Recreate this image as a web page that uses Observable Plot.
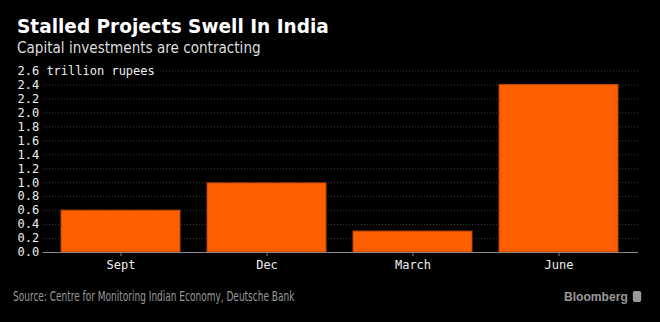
<!DOCTYPE html>
<html><head><meta charset="utf-8">
<script src="https://cdn.jsdelivr.net/npm/d3@7"></script>
<script src="https://cdn.jsdelivr.net/npm/@observablehq/plot@0.6"></script>
<style>
html,body{margin:0;padding:0;background:#000;}
#wrap{position:relative;width:660px;height:322px;background:#000;overflow:hidden;}
#title{position:absolute;left:17px;top:14px;font-family:"DejaVu Sans";font-weight:bold;font-size:20px;color:#fff;white-space:nowrap;transform:scaleX(0.925);transform-origin:0 0;}
#sub{position:absolute;left:17px;top:39px;font-family:"DejaVu Sans";font-size:15px;color:#ddd;white-space:nowrap;transform:scaleX(0.905);transform-origin:0 0;}
#chart{position:absolute;left:0;top:60px;}
#src{position:absolute;left:13px;top:288px;font-family:"DejaVu Sans Condensed","Liberation Sans Narrow";font-size:13.5px;color:#999;white-space:nowrap;transform:scaleX(0.74);transform-origin:0 0;}
#bb{position:absolute;left:564px;top:289px;font-family:"Liberation Sans","DejaVu Sans";font-weight:bold;font-size:13px;color:#999;white-space:nowrap;transform:scaleX(0.93);transform-origin:0 0;}
#bb i{display:inline-block;width:9px;height:11px;background:#999;border-radius:2px;margin-left:5px;vertical-align:-1px;}
</style></head>
<body><div id="wrap">
<div id="title">Stalled Projects Swell In India</div>
<div id="sub">Capital investments are contracting</div>
<div id="chart"></div>
<div id="src">Source: Centre for Monitoring Indian Economy, Deutsche Bank</div>
<div id="bb">Bloomberg<i></i></div>
</div>
<script>
const categories = ["Sept", "Dec", "March", "June"];
const values = [0.6, 0.99, 0.3, 2.4];
const yTicks = [0, 0.2, 0.4, 0.6, 0.8, 1.0, 1.2, 1.4, 1.6, 1.8, 2.0, 2.2, 2.4, 2.6];
const unitLabel = "trillion rupees";

const data = categories.map((c, i) => ({cat: c, value: values[i]}));
const mono = "DejaVu Sans Mono";

const plot = Plot.plot({
  width: 660,
  height: 215,
  marginLeft: 40,
  marginRight: 22,
  marginTop: 10.5,
  marginBottom: 23,
  style: {background: "#000", fontFamily: mono},
  x: {domain: categories, paddingInner: 0.185, paddingOuter: 0.0925, insetLeft: 7, insetRight: 7, label: null},
  y: {domain: [0, 2.6], label: null},
  marks: [
    Plot.ruleY(yTicks.filter(d => d > 0), {stroke: "#3a3a3a", strokeDasharray: "1,2", strokeWidth: 1}),
    Plot.barY(data, {x: "cat", y: "value", fill: "#ff5f00", stroke: "#b84400", strokeWidth: 1}),
    Plot.ruleY([0], {stroke: "#888", strokeWidth: 1}),
    Plot.text(yTicks, {
      y: d => d, frameAnchor: "left", dx: -23, textAnchor: "start",
      text: d => d === 2.6 ? d.toFixed(1) + " " + unitLabel : d.toFixed(1),
      fill: "#eee", stroke: "#000", strokeWidth: 8, fontSize: 12, fontFamily: mono
    }),
    Plot.axisX({tickSize: 4, stroke: "#888", tickPadding: 4, fill: "#eee", fontSize: 12, fontFamily: mono, label: null}),
    Plot.axisY({ticks: [], label: null})
  ]
});
document.getElementById("chart").appendChild(plot);
</script>
</body></html>
